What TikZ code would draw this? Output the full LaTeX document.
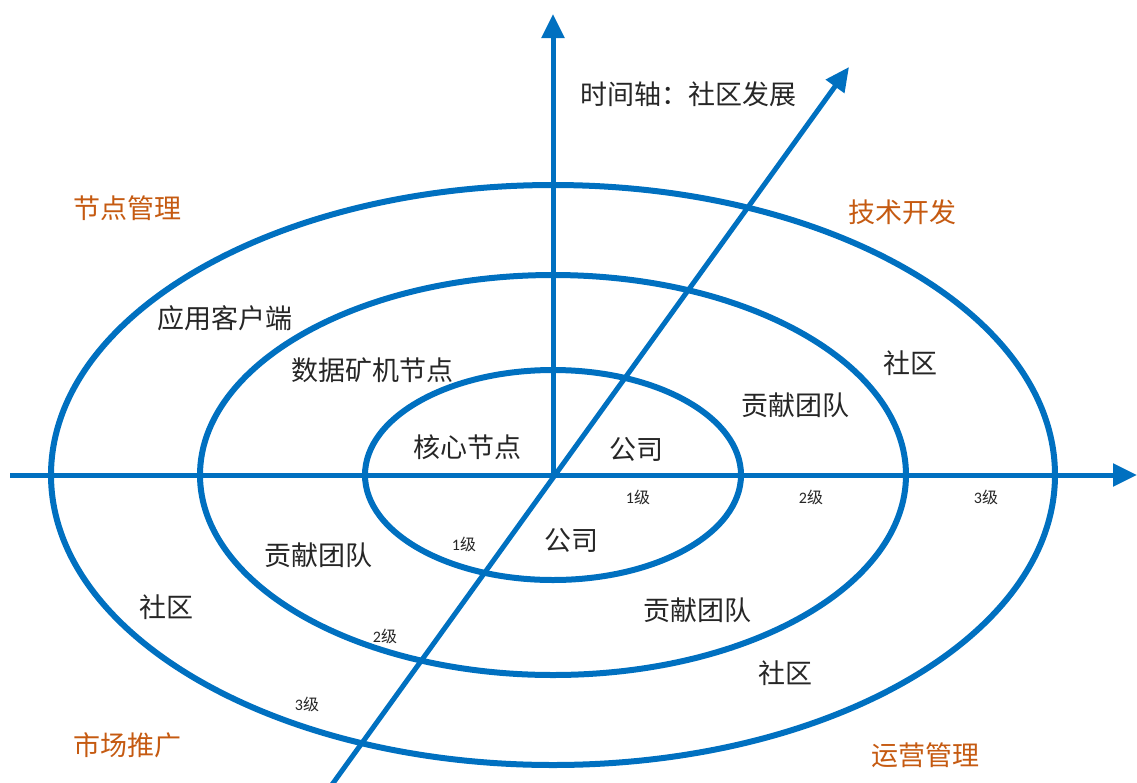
\documentclass[tikz,border=0pt]{standalone}
\usepackage{fontspec}
\setmainfont{Carlito}
\newfontfamily\cjk{Noto Sans CJK SC}
\usetikzlibrary{arrows.meta}
\definecolor{axblue}{HTML}{0070C0}
\definecolor{corner}{HTML}{C55A11}
\begin{document}
\begin{tikzpicture}[x=0.5pt,y=-0.5pt,
  ring/.style={draw=axblue,line width=3pt},
  axis/.style={draw=axblue,line width=2.5pt,-{Triangle[width=11pt,length=12pt]}},
  lbl/.style={font=\cjk\fontsize{13.5}{15}\selectfont,text=black!85,inner sep=0pt},
  corn/.style={font=\cjk\fontsize{13.5}{15}\selectfont,text=corner,inner sep=0pt},
  lvl/.style={font=\fontsize{8}{9}\selectfont,text=black!85,inner sep=0pt}]
\useasboundingbox (0,0) rectangle (1137,783);
\coordinate (c) at (553,475);
\draw[ring] (c) ellipse [x radius=502, y radius=290];
\draw[ring] (c) ellipse [x radius=353, y radius=200];
\draw[ring] (c) ellipse [x radius=188, y radius=105];
\coordinate (hs) at (10,475);
\coordinate (he) at (1137,475);
\coordinate (vs) at (553,475);
\coordinate (ve) at (553,14);
\coordinate (ds) at (331,786);
\coordinate (de) at (849,67);
\draw[axis] (hs) -- (he);
\draw[axis] (vs) -- (ve);
\draw[axis] (ds) -- (de);
\node[corn] (n1) at (128,208) {节点管理};
\node[corn] (n2) at (902,212) {技术开发};
\node[corn] (n3) at (128,745) {市场推广};
\node[corn] (n4) at (925,755) {运营管理};
\node[lbl] (t) at (688,94) {时间轴：社区发展};
\node[lbl] (a1) at (225,318) {应用客户端};
\node[lbl] (a2) at (372,370) {数据矿机节点};
\node[lbl] (a3) at (910,363) {社区};
\node[lbl] (a4) at (795,405) {贡献团队};
\node[lbl] (a5) at (467,447) {核心节点};
\node[lbl] (a6) at (636,449) {公司};
\node[lbl] (b1) at (571,540) {公司};
\node[lbl] (b2) at (318,555) {贡献团队};
\node[lbl] (b3) at (166,607) {社区};
\node[lbl] (b4) at (697,610) {贡献团队};
\node[lbl] (b5) at (785,673) {社区};
\node[lvl] (l1) at (638,497) {1{\cjk 级}};
\node[lvl] (l2) at (811,497) {2{\cjk 级}};
\node[lvl] (l3) at (986,497) {3{\cjk 级}};
\node[lvl] (l4) at (464,544) {1{\cjk 级}};
\node[lvl] (l5) at (385,636) {2{\cjk 级}};
\node[lvl] (l6) at (307,704) {3{\cjk 级}};
\end{tikzpicture}
\end{document}
